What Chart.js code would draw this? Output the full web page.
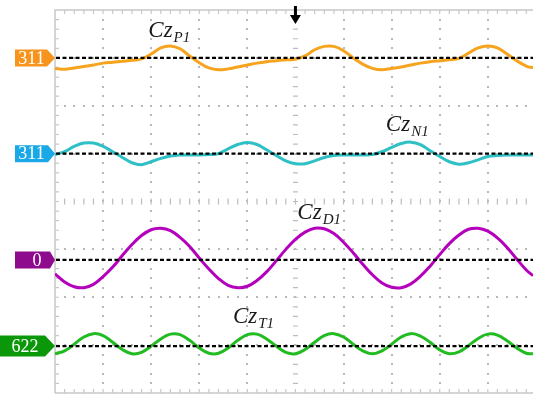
<!DOCTYPE html>
<html><head><meta charset="utf-8">
<script src="https://cdn.jsdelivr.net/npm/chart.js@4.4.0/dist/chart.umd.min.js"></script>
<style>html,body{margin:0;padding:0;background:#fff}#wrap{width:533px;height:400px;position:relative}</style>
</head><body><div id="wrap"><canvas id="c"></canvas></div>
<script>
// time axis in ms (5 ms / division)
const timeMs = [0,1,2,3,4,5,6,7,8,9,10,11,12,13,14,15,16,17,18,19,20,21,22,23,24,25,26,27,28,29,30,31,32,33,34,35,36,37,38,39,40,41,42,43,44,45,46,47,48,49,49.7];

// signals in screen divisions, relative to each channel's reference level
const czP1 = [-0.22,-0.24,-0.21,-0.18,-0.15,-0.11,-0.09,-0.07,-0.05,-0.02,
  0.08,0.21,0.25,0.19,0.04,-0.10,-0.21,-0.25,-0.23,-0.19,
  -0.15,-0.11,-0.08,-0.06,-0.04,-0.03,0.04,0.17,0.24,0.24,
  0.15,0,-0.13,-0.22,-0.25,-0.22,-0.19,-0.15,-0.11,-0.08,
  -0.06,-0.04,-0.01,0.10,0.21,0.25,0.21,0.08,-0.06,-0.17,-0.21];
const czN1 = [-0.02,0.04,0.15,0.22,0.22,0.15,0.04,-0.08,-0.19,-0.23,
  -0.17,-0.10,-0.05,-0.03,-0.03,-0.03,-0.02,0,0.10,0.19,
  0.23,0.19,0.08,-0.04,-0.15,-0.21,-0.21,-0.15,-0.08,-0.04,
  -0.03,-0.03,-0.03,-0.02,0.04,0.13,0.21,0.24,0.19,0.06,
  -0.06,-0.17,-0.22,-0.19,-0.13,-0.06,-0.04,-0.03,-0.03,-0.03,-0.03];
const czD1 = [-0.29,-0.46,-0.56,-0.58,-0.51,-0.35,-0.15,0.09,0.32,0.51,
  0.63,0.66,0.61,0.47,0.28,0.04,-0.19,-0.39,-0.53,-0.58,
  -0.55,-0.43,-0.25,-0.02,0.22,0.43,0.58,0.66,0.65,0.55,
  0.37,0.15,-0.09,-0.31,-0.48,-0.57,-0.58,-0.50,-0.34,-0.13,
  0.11,0.34,0.52,0.64,0.66,0.60,0.46,0.26,0.02,-0.21,-0.33];
const czT1 = [-0.16,-0.10,0.04,0.19,0.26,0.22,0.08,-0.07,-0.16,-0.13,
  0.00,0.15,0.25,0.24,0.12,-0.04,-0.15,-0.15,-0.04,0.12,
  0.24,0.25,0.15,0.00,-0.13,-0.16,-0.07,0.08,0.22,0.26,
  0.19,0.04,-0.10,-0.16,-0.10,0.04,0.19,0.26,0.21,0.08,
  -0.08,-0.16,-0.12,0.01,0.16,0.25,0.23,0.11,-0.04,-0.15,-0.16];

// channel reference levels (screen divisions from bottom) and their marker labels
const channelOffsets = [7.0, 5.0, 2.78, 0.98];
const markerLabels = ['311', '311', '0', '622'];
const seriesNames = [['Cz','P1'], ['Cz','N1'], ['Cz','D1'], ['Cz','T1']];

const series = [czP1, czN1, czD1, czT1];
const traceColors = ['#f6a31e', '#2ec0c4', '#b400bc', '#22bb22'];
const markerColors = ['#f7941d', '#1aa9e6', '#8e0b8e', '#0a980a'];
// marker geometry: [left, rectRight, textCenter, halfHeight]
const markerGeom = [[15,47,31.5,8.5],[15,48,31.5,8.5],[15,50,37,8.5],[0,45,25,10.5]];
// label anchor (ms, div)
const labelAnchor = [[9.7,7.44],[34.4,5.48],[25.2,3.63],[18.5,1.47]];

const datasets = series.map((s,k)=>({
  label: seriesNames[k].join(''),
  data: timeMs.map((t,i)=>({x:t, y: channelOffsets[k] + s[i]})),
  borderColor: traceColors[k],
  borderWidth: 3,
  pointRadius: 0,
  tension: 0.4,
  fill: false
}));

const scopePlugin = {
  id: 'scope',
  beforeDatasetsDraw(chart){
    const {ctx, chartArea:a, scales:{x,y}} = chart;
    ctx.save();
    const X = v=>x.getPixelForValue(v), Y = v=>y.getPixelForValue(v);
    // dotted grid
    ctx.fillStyle = '#b8b8b8';
    for (let t=5; t<49.7; t+=5){
      if (t===25) continue;
      for (let d=0.2; d<8; d+=0.2) ctx.fillRect(Math.round(X(t))-1, Math.round(Y(d))-1, 2, 2);
    }
    for (let d=1; d<8; d++){
      if (d===4) continue;
      for (let t=1; t<49.7; t+=1) ctx.fillRect(Math.round(X(t))-1, Math.round(Y(d))-1, 2, 2);
    }
    // center lines with ticks
    ctx.strokeStyle = '#bdbdbd'; ctx.lineWidth = 1.2;
    const cx = X(25), cy = Y(4);
    ctx.beginPath();
    for (let d=0.2; d<8; d+=0.2){ ctx.moveTo(cx-2.5, Y(d)); ctx.lineTo(cx+2.5, Y(d)); }
    for (let t=1; t<49.7; t+=1){ ctx.moveTo(X(t), cy-3); ctx.lineTo(X(t), cy+3); }
    ctx.stroke();
    // borders
    ctx.strokeStyle = '#c8c8c8'; ctx.lineWidth = 1.5;
    ctx.beginPath();
    ctx.moveTo(a.left, a.bottom); ctx.lineTo(a.left, a.top); ctx.lineTo(a.right+2, a.top);
    ctx.moveTo(a.left, a.bottom); ctx.lineTo(a.right+2, a.bottom);
    ctx.stroke();
    ctx.lineWidth = 1.2;
    ctx.beginPath();
    for (let t=1; t<49.7; t+=1){
      ctx.moveTo(X(t), a.top); ctx.lineTo(X(t), a.top+4);
      ctx.moveTo(X(t), a.bottom); ctx.lineTo(X(t), a.bottom-4);
    }
    for (let d=0.2; d<8; d+=0.2){ ctx.moveTo(a.left, Y(d)); ctx.lineTo(a.left+4, Y(d)); }
    ctx.stroke();
    ctx.restore();
  },
  afterDatasetsDraw(chart){
    const {ctx, chartArea:a, scales:{x,y}} = chart;
    const X = v=>x.getPixelForValue(v), Y = v=>y.getPixelForValue(v);
    ctx.save();
    // reference (ground) dashed lines
    ctx.strokeStyle = '#000'; ctx.lineWidth = 2.2; ctx.setLineDash([4,2.5]);
    channelOffsets.forEach(o=>{
      ctx.beginPath(); ctx.moveTo(a.left+1, Y(o)); ctx.lineTo(a.right, Y(o)); ctx.stroke();
    });
    ctx.setLineDash([]);
    // channel markers
    channelOffsets.forEach((o,k)=>{
      const [l, r, tc, h] = markerGeom[k];
      const cyv = Y(o);
      ctx.fillStyle = markerColors[k];
      ctx.beginPath();
      ctx.moveTo(l, cyv-h); ctx.lineTo(r, cyv-h); ctx.lineTo(a.left, cyv);
      ctx.lineTo(r, cyv+h); ctx.lineTo(l, cyv+h); ctx.closePath(); ctx.fill();
      ctx.fillStyle = '#fff';
      ctx.font = '18px "Liberation Serif"';
      ctx.textAlign = 'center'; ctx.textBaseline = 'middle';
      ctx.fillText(markerLabels[k], tc, cyv+1);
    });
    // trace labels
    ctx.fillStyle = '#1a1a1a'; ctx.textAlign = 'left'; ctx.textBaseline = 'alphabetic';
    seriesNames.forEach((n,k)=>{
      const px = X(labelAnchor[k][0]), py = Y(labelAnchor[k][1]);
      ctx.font = 'italic 23px "Liberation Serif"';
      ctx.fillText(n[0], px, py);
      const w = ctx.measureText(n[0]).width;
      ctx.font = 'italic 15px "Liberation Serif"';
      ctx.fillText(n[1], px + w + 1, py + 5);
    });
    // trigger arrow at top center
    const ax = X(25);
    ctx.fillStyle = '#000';
    ctx.fillRect(ax-1.5, a.top-4, 3, 12);
    ctx.beginPath();
    ctx.moveTo(ax-5.5, a.top+5); ctx.lineTo(ax+5.5, a.top+5); ctx.lineTo(ax, a.top+14);
    ctx.closePath(); ctx.fill();
    ctx.restore();
  }
};

new Chart(document.getElementById('c'), {
  type: 'line',
  data: { datasets },
  options: {
    responsive: true,
    maintainAspectRatio: false,
    animation: false,
    layout: { padding: { left: 55, top: 10, right: 0, bottom: 7 } },
    plugins: { legend: { display: false }, tooltip: { enabled: false } },
    scales: {
      x: { type: 'linear', min: 0, max: 49.7, display: false },
      y: { type: 'linear', min: 0, max: 8, display: false }
    }
  },
  plugins: [scopePlugin]
});
</script>
</body></html>
